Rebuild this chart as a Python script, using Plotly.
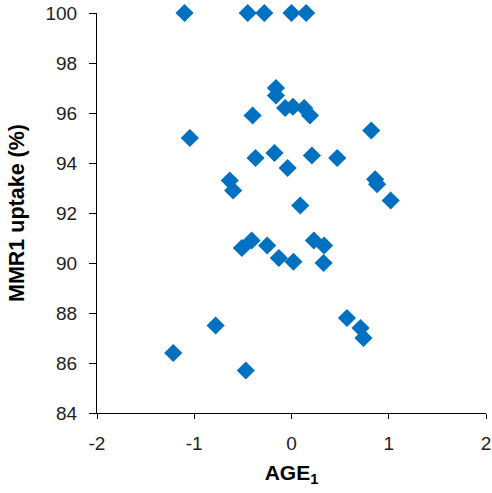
import plotly.graph_objects as go

age1 = [-1.10, -0.45, -0.28, 0.00, 0.15,
        -0.16, -0.16, -0.40, -0.065, 0.015, 0.13, 0.19,
        -1.045, -0.37, -0.175, -0.04, 0.21, 0.47,
        -0.635, -0.60, 0.09, 0.82, 0.86, 0.88, 1.02,
        -0.51, -0.41, -0.25, -0.13, 0.02, 0.23, 0.335, 0.33,
        0.57, 0.71, 0.74, -0.78, -1.216, -0.47]
mmr1 = [100.0, 100.0, 100.0, 100.0, 100.0,
        97.0, 96.7, 95.9, 96.2, 96.25, 96.2, 95.9,
        95.0, 94.2, 94.4, 93.8, 94.3, 94.2,
        93.3, 92.9, 92.3, 95.3, 93.35, 93.15, 92.5,
        90.6, 90.9, 90.7, 90.2, 90.05, 90.9, 90.7, 90.0,
        87.8, 87.4, 87.0, 87.5, 86.4, 85.7]

x_ticks = [-2, -1, 0, 1, 2]
x_tick_labels = ["-2", "-1", "0", "1", "2"]
y_ticks = [84, 86, 88, 90, 92, 94, 96, 98, 100]
y_tick_labels = ["84", "86", "88", "90", "92", "94", "96", "98", "100"]

fig = go.Figure(go.Scatter(
    x=age1, y=mmr1, mode="markers", cliponaxis=False,
    marker=dict(symbol="diamond", size=14, color="#0070C0", line=dict(width=0)),
))

font = "Liberation Sans, Arial, sans-serif"
fig.update_layout(
    width=492, height=493,
    margin=dict(l=97, r=6, t=13, b=80),
    paper_bgcolor="white", plot_bgcolor="white",
    showlegend=False,
    font=dict(family=font, size=19, color="#000000"),
)
fig.update_xaxes(
    range=[-2, 2], tickvals=x_ticks, ticktext=x_tick_labels, automargin=False,
    ticks="outside", ticklen=5, tickcolor="#000",
    showline=True, linecolor="#000", linewidth=1, showgrid=False, zeroline=False,
    tickfont=dict(size=19, color="#222"), ticklabelstandoff=8,
    title=dict(text="<b>AGE<sub>1</sub></b>", font=dict(size=21), standoff=12),
)
fig.update_yaxes(
    range=[84, 100], tickvals=y_ticks, ticktext=y_tick_labels, automargin=False,
    ticks="outside", ticklen=7, tickcolor="#000",
    showline=True, linecolor="#000", linewidth=1, showgrid=False, zeroline=False,
    tickfont=dict(size=19, color="#222"), ticklabelstandoff=8,
    title=dict(text="<b>MMR1 uptake (%)</b>", font=dict(size=21.5), standoff=14),
)
fig.write_html("out.html")
